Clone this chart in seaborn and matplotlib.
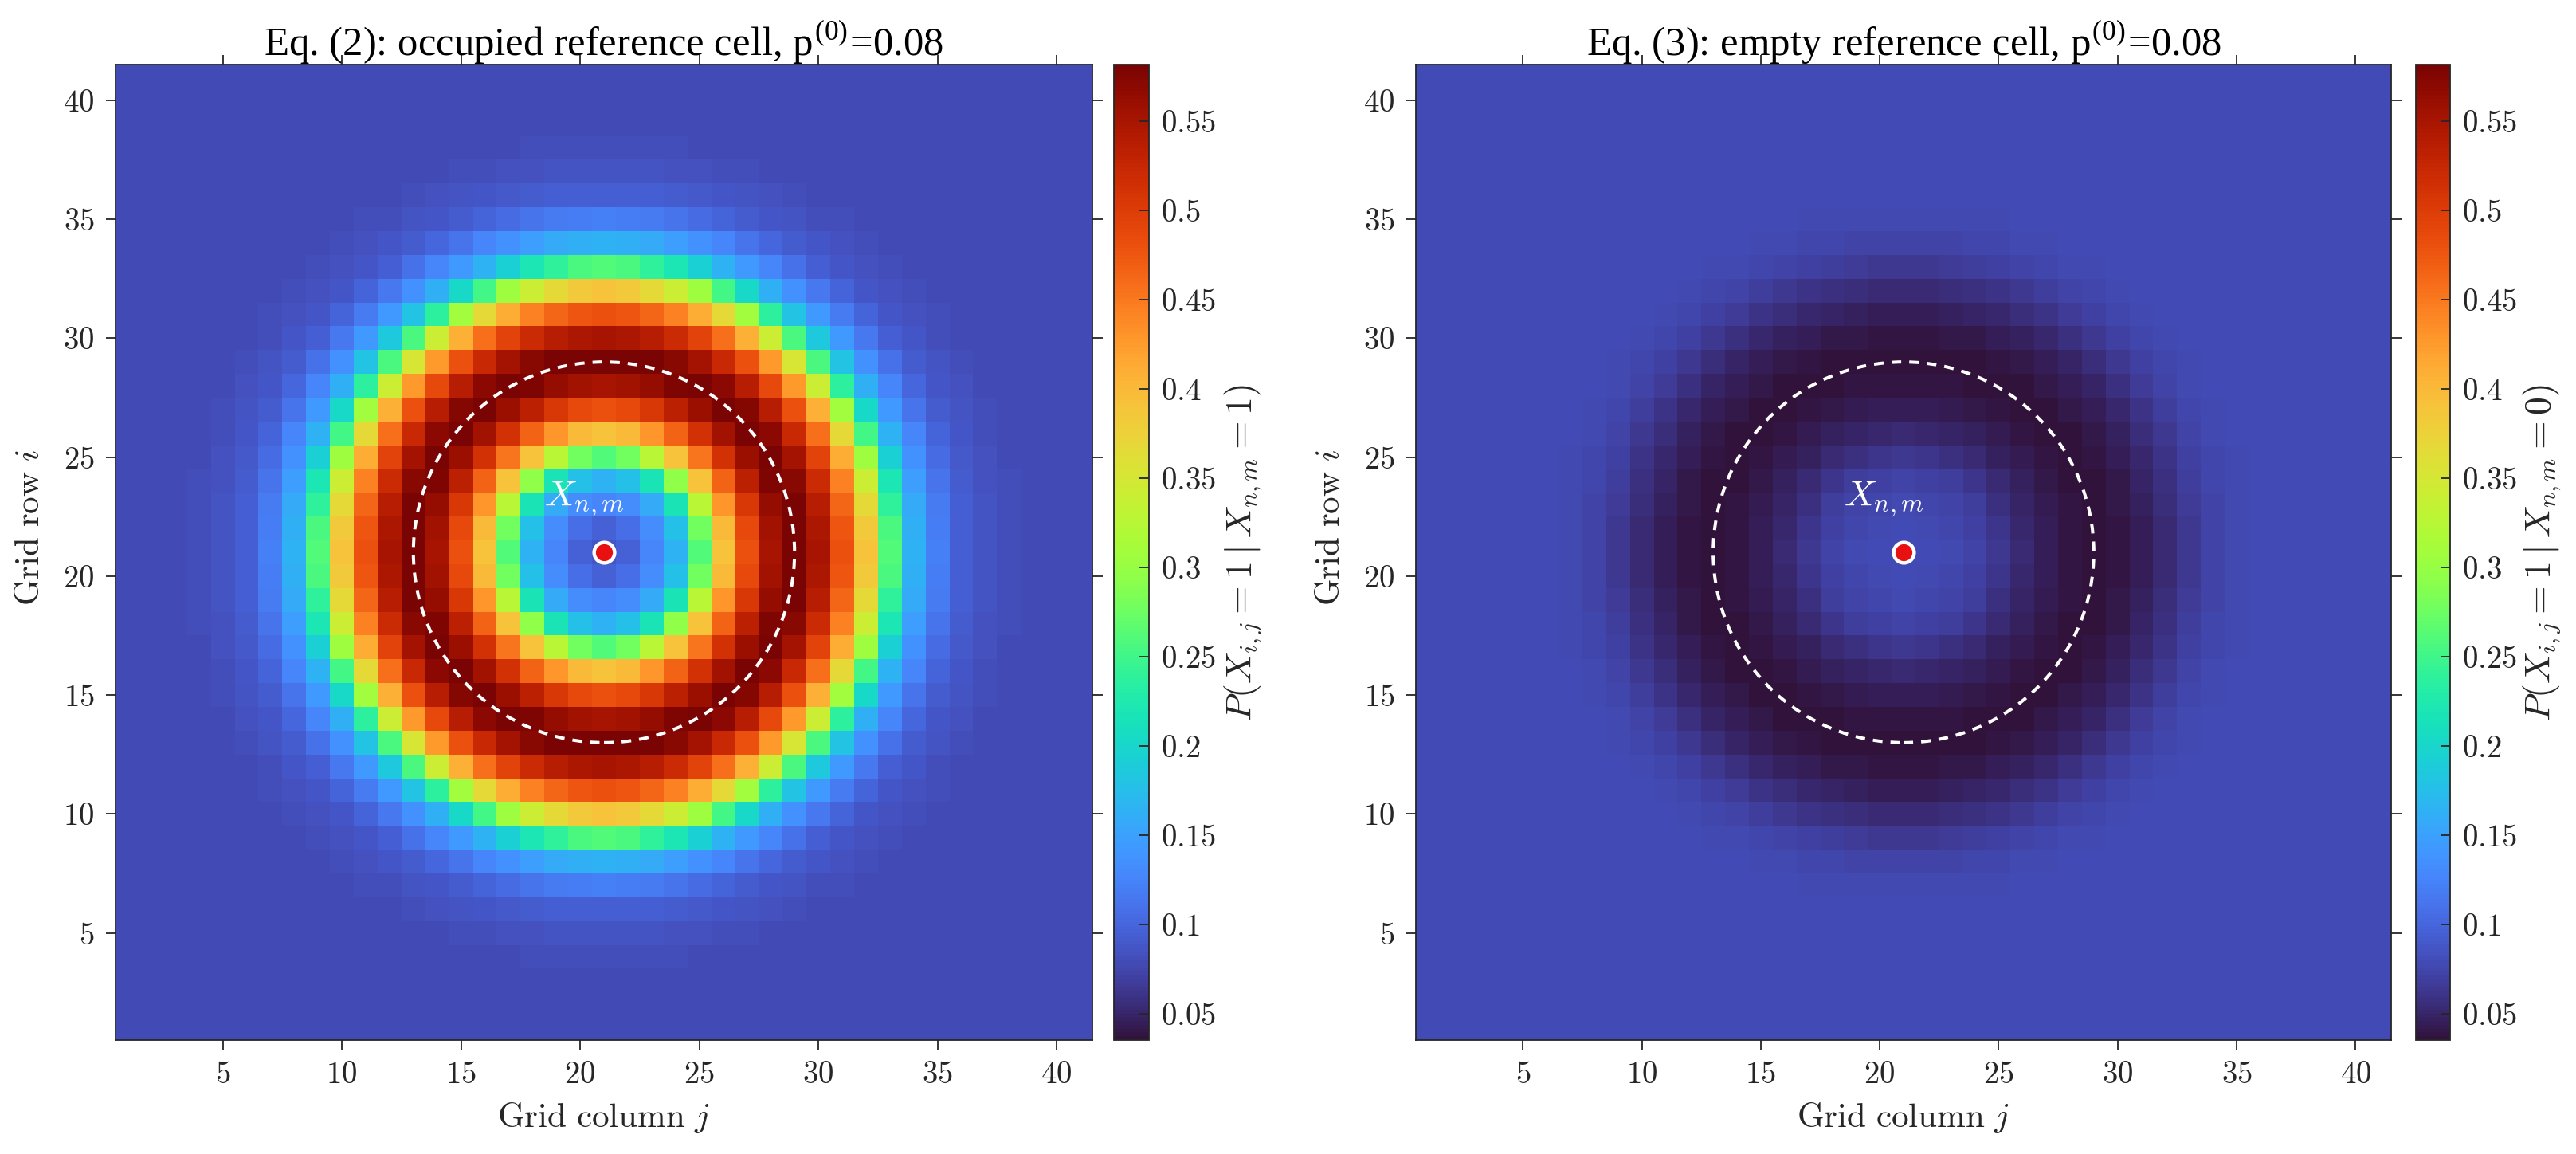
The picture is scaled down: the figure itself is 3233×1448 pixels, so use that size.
import numpy as np
import pandas as pd
import seaborn as sns
import matplotlib
import matplotlib.pyplot as plt
from matplotlib.patches import Circle

matplotlib.use("Agg")

GRID_SIZE = 41
CENTER_CELL = 21
RING_RADIUS = 8
BACKGROUND = 0.08

# Values. The maps are symmetric about the centre cell, so
# only one octant is kept: row a = larger offset, entry b = smaller offset.
occupied_octant = [
    [0.088],
    [0.097, 0.106],
    [0.125, 0.132, 0.157],
    [0.165, 0.178, 0.217, 0.294],
    [0.26, 0.277, 0.326, 0.39, 0.453],
    [0.39, 0.40, 0.429, 0.466, 0.512, 0.554],
    [0.48, 0.486, 0.506, 0.533, 0.56, 0.581, 0.575],
    [0.55, 0.554, 0.564, 0.578, 0.584, 0.57, 0.537, 0.486],
    [0.585, 0.584, 0.58, 0.573, 0.553, 0.524, 0.48, 0.427, 0.353],
    [0.55, 0.546, 0.537, 0.52, 0.494, 0.456, 0.408, 0.342, 0.256, 0.185],
    [0.48, 0.476, 0.464, 0.445, 0.413, 0.368, 0.307, 0.237, 0.18, 0.143, 0.118],
    [0.39, 0.384, 0.368, 0.342, 0.306, 0.251, 0.202, 0.163, 0.136, 0.115, 0.098, 0.088],
    [0.26, 0.256, 0.24, 0.22, 0.193, 0.165, 0.144, 0.126, 0.109, 0.095, 0.088, 0.084, 0.081],
    [0.165, 0.163, 0.157, 0.148, 0.136, 0.125, 0.112, 0.10, 0.092, 0.087, 0.083, 0.081],
    [0.122, 0.12, 0.118, 0.112, 0.105, 0.098, 0.092, 0.088, 0.085, 0.082, 0.081],
    [0.095, 0.095, 0.094, 0.091, 0.089, 0.087, 0.085, 0.083, 0.081],
    [0.085, 0.085, 0.085, 0.084, 0.083, 0.082, 0.081],
    [0.081, 0.081, 0.081, 0.081],
]

empty_octant = [
    [0.0793],
    [0.0785, 0.0777],
    [0.0761, 0.0755, 0.0733],
    [0.0726, 0.0715, 0.0681, 0.0614],
    [0.0643, 0.0629, 0.0586, 0.0530, 0.0476],
    [0.0530, 0.0522, 0.0497, 0.0464, 0.0424, 0.0388],
    [0.0452, 0.0447, 0.0430, 0.0406, 0.0383, 0.0364, 0.0370],
    [0.0391, 0.0388, 0.0379, 0.0367, 0.0362, 0.0374, 0.0403, 0.0447],
    [0.0361, 0.0362, 0.0365, 0.0371, 0.0389, 0.0414, 0.0452, 0.0498, 0.0563],
    [0.0391, 0.0395, 0.0403, 0.0417, 0.0440, 0.0473, 0.0515, 0.0572, 0.0647, 0.0709],
    [0.0452, 0.0456, 0.0466, 0.0483, 0.0510, 0.0550, 0.0603, 0.0664, 0.0713, 0.0745, 0.0767],
    [0.0530, 0.0536, 0.0550, 0.0572, 0.0604, 0.0651, 0.0694, 0.0728, 0.0751, 0.0770, 0.0784, 0.0793],
    [0.0643, 0.0647, 0.0661, 0.0678, 0.0702, 0.0726, 0.0744, 0.0760, 0.0775, 0.0787, 0.0793, 0.0797, 0.0799],
    [0.0726, 0.0728, 0.0733, 0.0741, 0.0751, 0.0761, 0.0772, 0.0783, 0.0790, 0.0794, 0.0797, 0.0799],
    [0.0763, 0.0765, 0.0767, 0.0772, 0.0778, 0.0784, 0.0790, 0.0793, 0.0796, 0.0798, 0.0799],
    [0.0787, 0.0787, 0.0788, 0.0791, 0.0792, 0.0794, 0.0796, 0.0797, 0.0799],
    [0.0796, 0.0796, 0.0796, 0.0797, 0.0797, 0.0798, 0.0799],
    [0.0799, 0.0799, 0.0799, 0.0799],
]

axis_ticks = [5, 10, 15, 20, 25, 30, 35, 40]
cbar_ticks = [0.05, 0.1, 0.15, 0.2, 0.25, 0.3, 0.35, 0.4, 0.45, 0.5, 0.55]
cbar_ticklabels = ["0.05", "0.1", "0.15", "0.2", "0.25", "0.3", "0.35", "0.4", "0.45", "0.5", "0.55"]
titles = [
    r"Eq. (2): occupied reference cell, p$^{\mathregular{(0)}}$=0.08",
    r"Eq. (3): empty reference cell, p$^{\mathregular{(0)}}$=0.08",
]
cbar_labels = [
    r"$P(X_{i,j}=1\mid X_{n,m}=1)$",
    r"$P(X_{i,j}=1\mid X_{n,m}=0)$",
]
V_MIN = 0.0353
V_MAX = 0.5817

W, H = 3233, 1448
DARK = "#262626"

plt.rcParams["mathtext.fontset"] = "cm"
plt.rcParams["font.family"] = ["Liberation Serif", "DejaVu Serif"]


def expand(octant):
    # mirror the octant out to the full grid, row 1 first
    rows = []
    for i in range(1, GRID_SIZE + 1):
        row = []
        for j in range(1, GRID_SIZE + 1):
            a = max(abs(i - CENTER_CELL), abs(j - CENTER_CELL))
            b = min(abs(i - CENTER_CELL), abs(j - CENTER_CELL))
            if a < len(octant) and b < len(octant[a]):
                row.append(octant[a][b])
            else:
                row.append(BACKGROUND)
        rows.append(row)
    labels = range(1, GRID_SIZE + 1)
    return pd.DataFrame(rows, index=labels, columns=labels)


def box(x0, x1, y0, y1):
    # pixel box of the picture to figure fractions
    return [x0 / W, 1 - y1 / H, (x1 - x0) / W, (y1 - y0) / H]


fig = plt.figure(figsize=(W / 100, H / 100), dpi=100)

panels = [
    (occupied_octant, box(145, 1371, 81, 1305), box(1398, 1442, 81, 1305)),
    (empty_octant, box(1777, 3001, 81, 1305), box(3032, 3075, 81, 1305)),
]

for n, (octant, ax_box, cax_box) in enumerate(panels):
    ax = fig.add_axes(ax_box)
    cax = fig.add_axes(cax_box)
    sns.heatmap(expand(octant), cmap="turbo", vmin=V_MIN, vmax=V_MAX, ax=ax, cbar_ax=cax,
                xticklabels=False, yticklabels=False)
    ax.set_xlim(0, GRID_SIZE)
    ax.set_ylim(0, GRID_SIZE)

    # cells are centred on k - 0.5 in heatmap coordinates
    positions = [k - 0.5 for k in axis_ticks]
    ax.set_xticks(positions)
    ax.set_yticks(positions)
    ax.set_xticklabels([f"${k}$" for k in axis_ticks])
    ax.set_yticklabels([f"${k}$" for k in axis_ticks], rotation=0)
    ax.tick_params(axis="both", direction="out", length=9, width=1.3, color=DARK,
                   labelcolor=DARK, labelsize=28, top=True, right=True, pad=10)
    for spine in ax.spines.values():
        spine.set_visible(True)
        spine.set_color(DARK)
        spine.set_linewidth(1.3)

    ax.add_patch(Circle((CENTER_CELL - 0.5, CENTER_CELL - 0.5), RING_RADIUS, fill=False,
                        edgecolor="white", linewidth=2.9, linestyle=(0, (3, 2.5))))
    ax.plot([CENTER_CELL - 0.5], [CENTER_CELL - 0.5], "o", color="#E81010",
            markeredgecolor="white", markeredgewidth=3.2, markersize=18.5)
    ax.text(18.0, 22.45, r"$X_{n,m}$", color="white", fontsize=33, ha="left", va="baseline")

    ax.set_title(titles[n], fontsize=36.5, color="black", pad=8)
    ax.set_xlabel(r"$\mathrm{Grid\ column}\ j$", fontsize=31, color=DARK, labelpad=9)
    ax.set_ylabel(r"$\mathrm{Grid\ row}\ i$", fontsize=31, color=DARK)
    ax.yaxis.set_label_coords(-0.071, 0.525)

    cbar = ax.collections[0].colorbar
    cbar.set_ticks(cbar_ticks)
    cbar.set_ticklabels([f"${t}$" for t in cbar_ticklabels])
    cbar.ax.tick_params(axis="y", direction="in", length=9, width=1.3, color=DARK,
                        labelcolor=DARK, labelsize=28, pad=11, right=True, left=False)
    cbar.outline.set_visible(True)
    cbar.outline.set_edgecolor(DARK)
    cbar.outline.set_linewidth(1.3)
    cbar.ax.text(3.7, 0.5, cbar_labels[n], transform=cbar.ax.transAxes, rotation=90,
                 fontsize=33, color=DARK, ha="center", va="center")

fig.savefig("out.png", dpi=100)
